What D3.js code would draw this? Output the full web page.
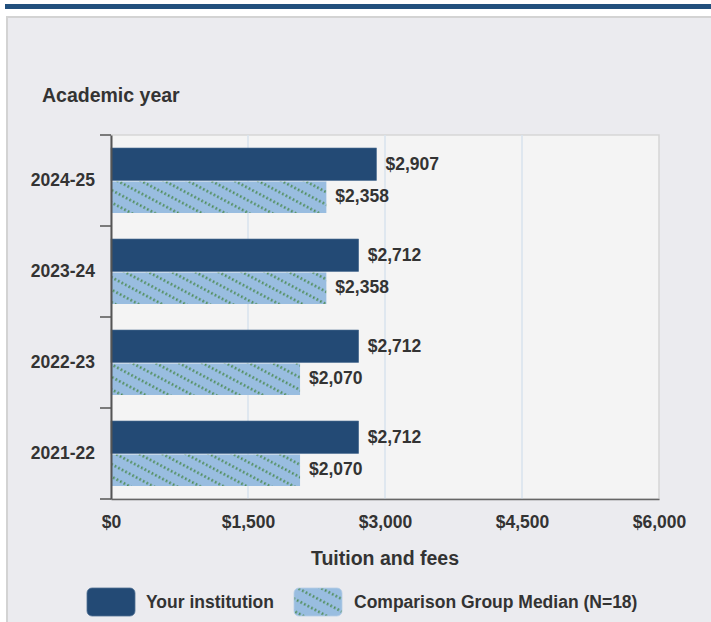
<!DOCTYPE html>
<html><head><meta charset="utf-8">
<script src="https://cdn.jsdelivr.net/npm/d3@7"></script>
<style>
html,body{margin:0;padding:0;background:#fff;}
svg{display:block;font-family:"Liberation Sans",Arial,sans-serif;}
</style></head>
<body>
<svg id="chart" width="711" height="622"></svg>
<script>
const categories = ["2024-25", "2023-24", "2022-23", "2021-22"];
const institution = [2907, 2712, 2712, 2712];
const comparison = [2358, 2358, 2070, 2070];
const seriesNames = ["Your institution", "Comparison Group Median (N=18)"];
const xTicks = [0, 1500, 3000, 4500, 6000];

(function () {
const svg = d3.select("#chart");
const W = 711, H = 622;
const FF = "Liberation Sans, Arial, sans-serif";

// header bar & panel
svg.append("rect").attr("x", 5).attr("y", 4).attr("width", W - 5).attr("height", 5).attr("fill", "#22507d");
svg.append("rect").attr("x", 7).attr("y", 17).attr("width", W - 6).attr("height", H - 16)
  .attr("fill", "#ebebef").attr("stroke", "#d3d3d3").attr("stroke-width", 2);

const defs = svg.append("defs");
const pat = defs.append("pattern").attr("id", "hatch").attr("patternUnits", "userSpaceOnUse")
  .attr("width", 40).attr("height", 11).attr("patternTransform", "rotate(28)");
pat.append("rect").attr("width", 40).attr("height", 11).attr("fill", "#99bde0");
pat.append("line").attr("x1", 0).attr("x2", 40).attr("y1", 5.5).attr("y2", 5.5)
  .attr("stroke", "#4a8a50").attr("stroke-width", 2.4).attr("stroke-dasharray", "1.6,2.4");

const pL = 111, pR = 659, pT = 135, pB = 499;
const x = d3.scaleLinear().domain([0, 6000]).range([pL, pR]);
const y = d3.scaleBand().domain(categories).range([pT, pB]);

// plot bg
svg.append("rect").attr("x", pL).attr("y", pT).attr("width", pR - pL).attr("height", pB - pT)
  .attr("fill", "#f4f4f4").attr("stroke", "#d6d6d6").attr("stroke-width", 1.5);

// gridlines
svg.append("g").selectAll("line").data(xTicks.slice(1, -1)).join("line")
  .attr("x1", d => x(d)).attr("x2", d => x(d)).attr("y1", pT).attr("y2", pB)
  .attr("stroke", "#d9e3ee").attr("stroke-width", 1.5);

const barPad = 13;
const barH = (y.bandwidth() - 2 * barPad) / 2;
const fmt = d3.format("$,");

const g = svg.append("g");
categories.forEach((c, i) => {
  const y0 = y(c) + barPad;
  g.append("rect").attr("x", x(0)).attr("y", y0).attr("width", x(institution[i]) - x(0)).attr("height", barH)
    .attr("fill", "#234a75").attr("stroke", "#4e6f93").attr("stroke-width", 0.6);
  g.append("rect").attr("x", x(0)).attr("y", y0 + barH + 1).attr("width", x(comparison[i]) - x(0)).attr("height", barH - 1)
    .attr("fill", "url(#hatch)");
  g.append("text").attr("x", x(institution[i]) + 9).attr("y", y0 + barH / 2 + 5.5)
    .attr("font-size", 17.5).attr("font-weight", "bold").attr("fill", "#333")
    .text(fmt(institution[i]));
  g.append("text").attr("x", x(comparison[i]) + 9).attr("y", y0 + barH * 1.5 + 5.5)
    .attr("font-size", 17.5).attr("font-weight", "bold").attr("fill", "#333")
    .text(fmt(comparison[i]));
});

// y axis
const yAxis = svg.append("g").attr("transform", `translate(${pL},0)`)
  .call(d3.axisLeft(y).tickSize(0).tickPadding(16));
yAxis.select(".domain").attr("stroke", "#555").attr("stroke-width", 2);
yAxis.selectAll("text").attr("font-size", 17.5).attr("font-weight", "bold").attr("fill", "#333")
  .attr("font-family", FF);
// band boundary ticks
const bounds = categories.map(c => y(c)).concat([pB]);
svg.append("g").selectAll("line").data(bounds).join("line")
  .attr("x1", pL - 11).attr("x2", pL).attr("y1", d => d).attr("y2", d => d)
  .attr("stroke", "#555").attr("stroke-width", 1.5);

// x axis
const xAxis = svg.append("g").attr("transform", `translate(0,${pB})`)
  .call(d3.axisBottom(x).tickValues(xTicks).tickSize(0).tickPadding(17).tickFormat(fmt));
xAxis.select(".domain").attr("stroke", "#666").attr("stroke-width", 1.5);
xAxis.selectAll("text").attr("font-size", 17.5).attr("font-weight", "bold").attr("fill", "#333")
  .attr("font-family", FF);

// titles
svg.append("text").attr("x", 42).attr("y", 102).attr("font-size", 19.5).attr("font-weight", "bold")
  .attr("fill", "#333").text("Academic year");
svg.append("text").attr("x", (pL + pR) / 2).attr("y", 565).attr("text-anchor", "middle")
  .attr("font-size", 19.5).attr("font-weight", "bold").attr("fill", "#333").text("Tuition and fees");

// legend
const legend = svg.append("g");
const items = [{x: 87, fill: "#234a75", tx: 146}, {x: 294, fill: "url(#hatch)", tx: 354}];
items.forEach((it, i) => {
  legend.append("rect").attr("x", it.x).attr("y", 588).attr("width", 48).attr("height", 28).attr("rx", 5)
    .attr("fill", it.fill).attr("stroke", i === 0 ? "#4e6f93" : "#b5cde6").attr("stroke-width", 0.8);
  legend.append("text").attr("x", it.tx).attr("y", 608).attr("font-size", 17.5).attr("font-weight", "bold")
    .attr("fill", "#333").text(seriesNames[i]);
});
})();
</script>
</body></html>
